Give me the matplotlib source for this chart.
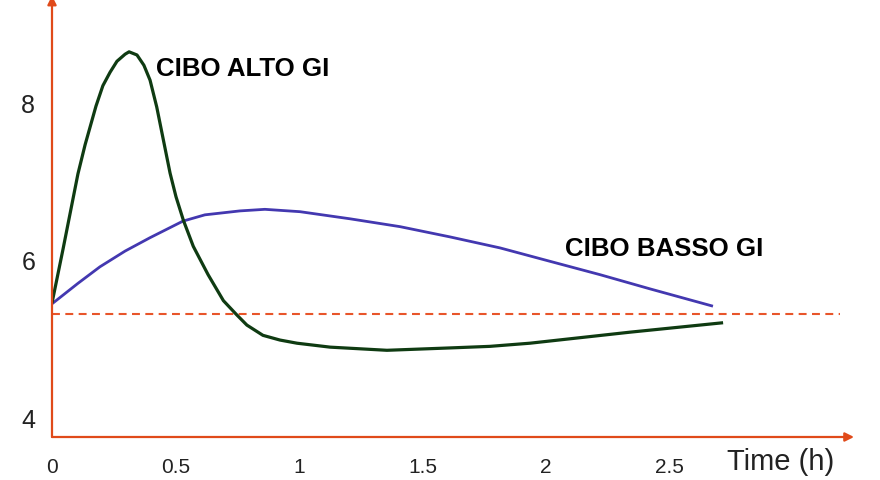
import matplotlib
matplotlib.use("Agg")
import matplotlib.pyplot as plt

plt.rcParams['font.family'] = ['Liberation Sans', 'DejaVu Sans']

# tempo (h) e glicemia
alto_t = [0.000, 0.045, 0.081, 0.105, 0.134, 0.178, 0.206, 0.235, 0.263, 0.296,
          0.312, 0.344, 0.372, 0.397, 0.424, 0.451, 0.478, 0.502, 0.532, 0.572,
          0.632, 0.694, 0.748, 0.789, 0.854, 0.923, 0.992, 1.126, 1.356, 1.611,
          1.773, 1.935, 2.340, 2.717]
alto_g = [5.46, 6.15, 6.72, 7.10, 7.47, 7.96, 8.22, 8.39, 8.53, 8.62,
          8.65, 8.61, 8.48, 8.29, 7.95, 7.53, 7.11, 6.81, 6.51, 6.18,
          5.82, 5.49, 5.31, 5.18, 5.05, 4.99, 4.95, 4.90, 4.86, 4.89,
          4.91, 4.95, 5.09, 5.21]

basso_t = [0.000, 0.105, 0.194, 0.296, 0.397, 0.530, 0.619, 0.761, 0.862, 1.004,
           1.206, 1.409, 1.611, 1.814, 2.016, 2.219, 2.421, 2.676]
basso_g = [5.45, 5.71, 5.92, 6.12, 6.29, 6.50, 6.58, 6.63, 6.65, 6.62,
           6.53, 6.43, 6.30, 6.16, 5.99, 5.82, 5.64, 5.42]

soglia = 5.32
soglia_t = [0.0, 3.19]

x_ticks = [0, 0.5, 1, 1.5, 2, 2.5]
x_labels = ["0", "0.5", "1", "1.5", "2", "2.5"]
y_ticks = [4, 6, 8]

axis_col = "#e04a1a"

fig = plt.figure(figsize=(8.8, 4.8), dpi=100)
ax = fig.add_axes([52 / 880, 43 / 480, (854 - 52) / 880, 437 / 480])

ax.plot(soglia_t, [soglia, soglia], color="#e8552a", lw=1.5, dashes=(3.8, 2.6))
ax.plot(basso_t, basso_g, color="#4338b0", lw=2.0, solid_capstyle="butt", solid_joinstyle="round")
ax.plot(alto_t, alto_g, color="#0f3b12", lw=2.3, solid_capstyle="butt", solid_joinstyle="round")

ax.set_xlim(0, 3.247)
ax.set_ylim(3.759, 9.308)

for s in ax.spines.values():
    s.set_visible(False)

# assi con freccia
ax.annotate("", xy=(1, 0), xytext=(0, 0), xycoords="axes fraction",
            arrowprops=dict(arrowstyle="-|>", color=axis_col, lw=1.6, mutation_scale=13,
                            shrinkA=0, shrinkB=0))
ax.annotate("", xy=(0, 1.01), xytext=(0, 0), xycoords="axes fraction",
            arrowprops=dict(arrowstyle="-|>", color=axis_col, lw=1.6, mutation_scale=13,
                            shrinkA=0, shrinkB=0))

ax.set_xticks(x_ticks)
ax.set_xticklabels(x_labels)
ax.set_yticks(y_ticks)
ax.tick_params(axis="x", length=0, pad=15, labelsize=15, labelcolor="#222222")
ax.tick_params(axis="y", length=0, pad=12, labelsize=18, labelcolor="#222222")

ax.text(0.421, 8.343, "CIBO ALTO GI", fontsize=18.6, fontweight="bold", ha="left", va="baseline")
ax.text(2.077, 6.057, "CIBO BASSO GI", fontsize=18.6, fontweight="bold", ha="left", va="baseline")
ax.text(2.733, 3.34, "Time (h)", fontsize=21, ha="left", va="baseline", color="#222222", clip_on=False)

fig.savefig("out.png", dpi=100)
